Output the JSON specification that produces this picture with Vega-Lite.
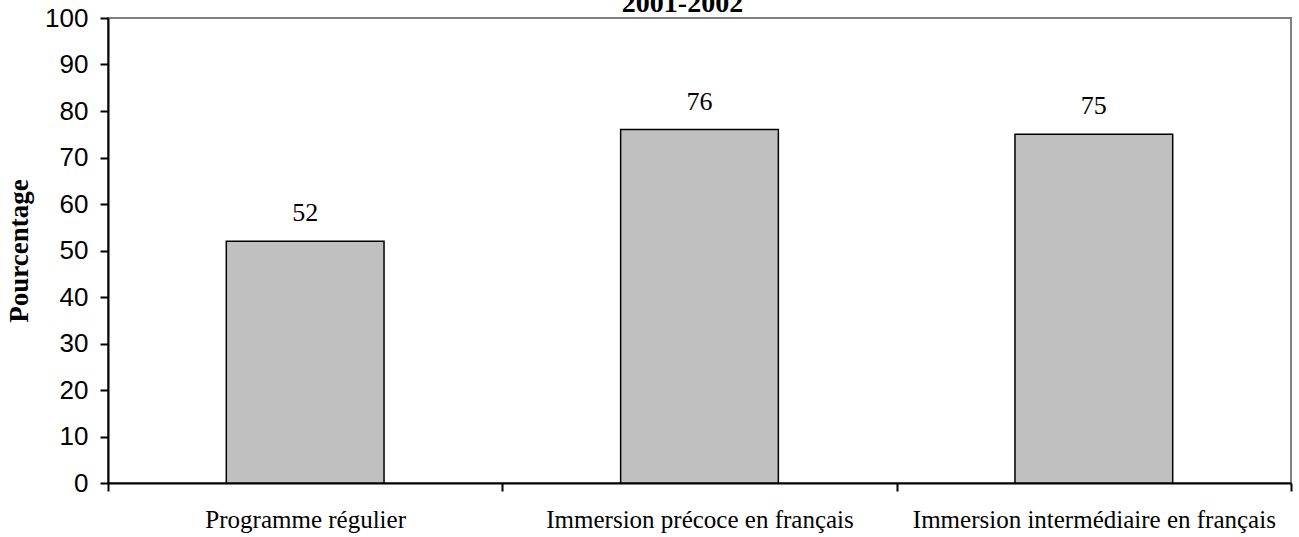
{
  "$schema": "https://vega.github.io/schema/vega-lite/v6.json",
  "autosize": {"type": "none"},
  "width": 1183,
  "height": 465,
  "padding": {"left": 108, "top": 18, "right": 8, "bottom": 54},
  "background": "white",
  "title": {
    "text": "2001-2002",
    "font": "Liberation Serif",
    "fontSize": 28,
    "fontWeight": "bold",
    "color": "black",
    "baseline": "bottom",
    "frame": "group",
    "offset": 0,
    "dy": 41,
    "dx": -17,
    "anchor": "middle"
  },
  "config": {
    "view": {"stroke": "#808080", "strokeWidth": 2}
  },
  "data": {
    "values": [
      {"programme": "Programme régulier", "pourcentage": 52},
      {"programme": "Immersion précoce en français", "pourcentage": 76},
      {"programme": "Immersion intermédiaire en français", "pourcentage": 75}
    ]
  },
  "encoding": {
    "x": {
      "field": "programme",
      "type": "nominal",
      "sort": null,
      "scale": {"paddingInner": 0, "paddingOuter": 0},
      "axis": {
        "title": null,
        "labelAngle": 0,
        "labelFont": "Liberation Serif",
        "labelFontSize": 25,
        "labelColor": "black",
        "labelPadding": 16,
        "tickBand": "extent",
        "tickSize": 8,
        "tickColor": "black",
        "tickWidth": 2,
        "domainColor": "black",
        "domainWidth": 2,
        "labelLimit": 600
      }
    },
    "y": {
      "field": "pourcentage",
      "type": "quantitative",
      "scale": {"domain": [0, 100], "nice": false},
      "axis": {
        "title": "Pourcentage",
        "titleFont": "Liberation Serif",
        "titleFontSize": 27,
        "titleFontWeight": "bold",
        "titleColor": "black",
        "titlePadding": 11,
        "values": [0, 10, 20, 30, 40, 50, 60, 70, 80, 90, 100],
        "grid": false,
        "labelFont": "Liberation Sans",
        "labelFontSize": 26,
        "labelColor": "black",
        "labelPadding": 12,
        "tickSize": 8,
        "tickColor": "black",
        "tickWidth": 2,
        "domainColor": "black",
        "domainWidth": 2
      }
    }
  },
  "layer": [
    {
      "mark": {"type": "bar", "width": {"band": 0.4}, "fill": "#C0C0C0", "stroke": "black", "strokeWidth": 1.5}
    },
    {
      "mark": {"type": "text", "font": "Liberation Serif", "fontSize": 26, "color": "black", "baseline": "alphabetic", "dy": -20},
      "encoding": {"text": {"field": "pourcentage", "type": "quantitative"}}
    }
  ]
}
